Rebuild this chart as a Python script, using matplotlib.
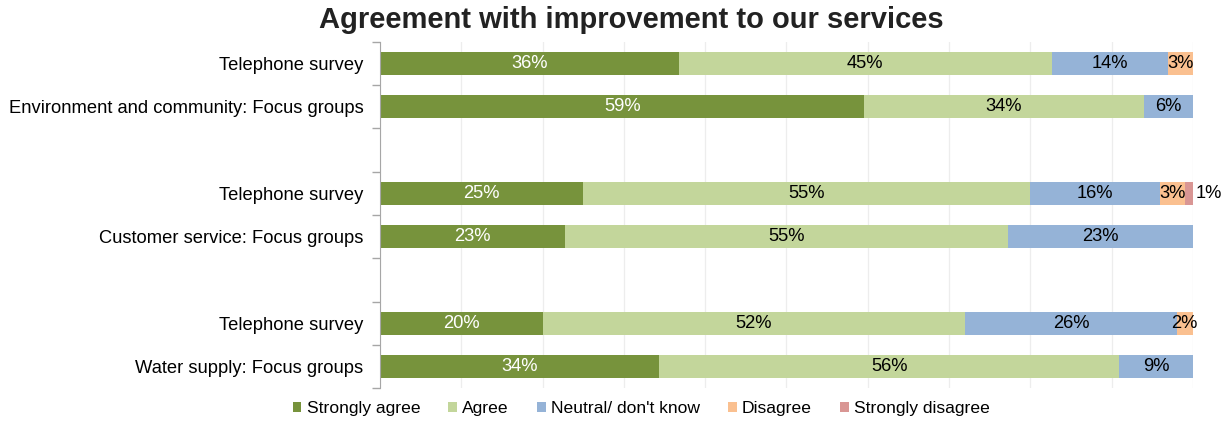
import numpy as np
import matplotlib.pyplot as plt
from matplotlib.ticker import MultipleLocator, FixedLocator

plt.rcParams['font.family'] = ['Liberation Sans', 'DejaVu Sans']

# rows from bottom to top, blank strings are spacer rows between service areas
rows = ['Water supply: Focus groups', 'Telephone survey', '',
        'Customer service: Focus groups', 'Telephone survey', '',
        'Environment and community: Focus groups', 'Telephone survey']

responses = ['Strongly agree', 'Agree', "Neutral/ don't know", 'Disagree', 'Strongly disagree']
colors = ['#77933C', '#C3D69B', '#95B3D7', '#FAC090', '#D99694']
text_colors = ['white', 'black', 'black', 'black', 'black']

strongly_agree = [34, 20, 0, 23, 25, 0, 59, 36]
agree = [56, 52, 0, 55, 55, 0, 34, 45]
neutral = [9, 26, 0, 23, 16, 0, 6, 14]
disagree = [0, 2, 0, 0, 3, 0, 0, 3]
strongly_disagree = [0, 0, 0, 0, 1, 0, 0, 0]

values = np.array([strongly_agree, agree, neutral, disagree, strongly_disagree], dtype=float)
totals = values.sum(axis=0)
totals[totals == 0] = 1
shares = values / totals

fs = 13.2

fig = plt.figure(figsize=(12.26, 4.21), dpi=100)
ax = fig.add_axes([0.310, 0.078, 0.663, 0.823])

y = np.arange(len(rows))
left = np.zeros(len(rows))
for i, name in enumerate(responses):
    ax.barh(y, shares[i], left=left, height=0.53, color=colors[i], label=name, zorder=2)
    for j in range(len(rows)):
        v = values[i, j]
        if v <= 0:
            continue
        cx = left[j] + shares[i, j] / 2
        if name == 'Strongly disagree':
            ax.text(left[j] + shares[i, j] + 0.003, y[j], f'{v:.0f}%', ha='left', va='center',
                    fontsize=fs, color='black', zorder=3)
        else:
            ax.text(cx, y[j], f'{v:.0f}%', ha='center', va='center',
                    fontsize=fs, color=text_colors[i], zorder=3)
    left += shares[i]

ax.set_xlim(0, 1)
ax.set_ylim(-0.5, len(rows) - 0.5)
ax.xaxis.set_major_locator(MultipleLocator(0.1))
ax.grid(axis='x', color='#ededed', linewidth=0.9, zorder=0)
ax.tick_params(axis='x', length=0, labelbottom=False)

ax.set_yticks(y)
ax.set_yticklabels(rows, fontsize=fs)
ax.yaxis.set_minor_locator(FixedLocator(np.arange(-0.5, len(rows), 1)))
ax.tick_params(axis='y', which='major', length=0, pad=12)
ax.tick_params(axis='y', which='minor', length=6, color='#a6a6a6', width=1)

for s in ['top', 'right', 'bottom']:
    ax.spines[s].set_visible(False)
ax.spines['left'].set_color('#a6a6a6')

fig.suptitle('Agreement with improvement to our services', x=0.515, y=0.985,
             fontsize=21, fontweight='bold', color='#222222')

fig.legend(loc='lower center', bbox_to_anchor=(0.523, -0.025), ncol=5, frameon=False,
           fontsize=12.6, handlelength=0.5, handleheight=0.5, handletextpad=0.3,
           columnspacing=1.6)

fig.savefig('out.png', dpi=100)
